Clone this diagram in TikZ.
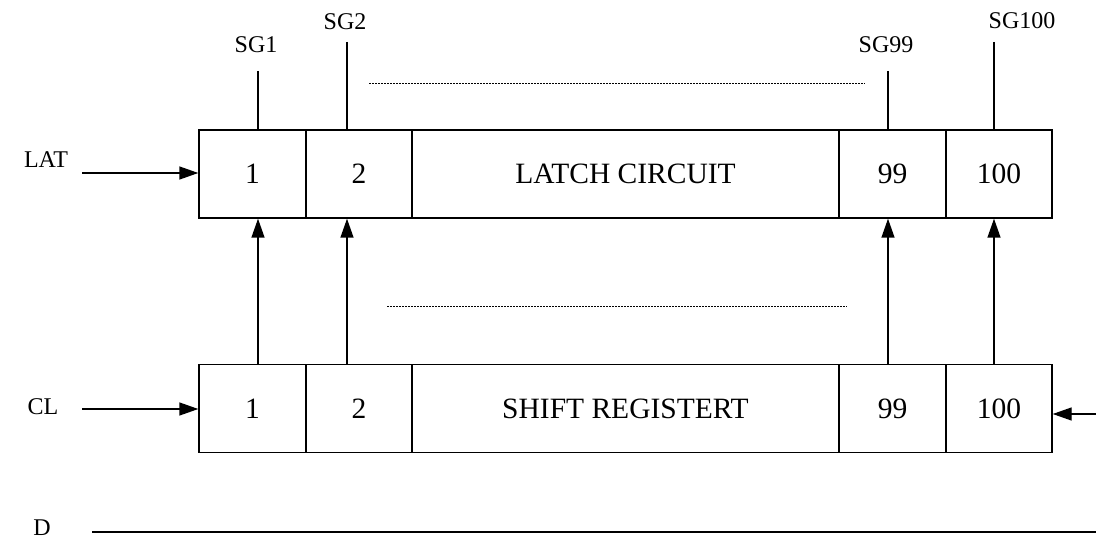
\documentclass[tikz,border=0pt]{standalone}
\usepackage{fontspec}
\setmainfont{Liberation Serif}
\usetikzlibrary{arrows.meta}
\begin{document}
\begin{tikzpicture}[x=1pt,y=-1pt,
  cell/.style={draw,line width=1.4pt,inner sep=0pt,minimum height=88pt,
    font=\fontsize{29.5}{31}\selectfont},
  lbl/.style={inner sep=0pt,font=\fontsize{24}{26}\selectfont},
  wire/.style={line width=1.4pt},
  arr/.style={line width=1.4pt,-{Triangle[length=19pt,width=13pt]}},
  dots/.style={line width=0.8pt,dash pattern=on 1.6pt off 1.4pt}]
\useasboundingbox (0,0) rectangle (1096,540);

% latch row
\node[cell,minimum width=107pt] (t1)   at (252.5,174) {1};
\node[cell,minimum width=106pt] (t2)   at (359,174)   {2};
\node[cell,minimum width=427pt] (tl)   at (625.5,174) {LATCH CIRCUIT};
\node[cell,minimum width=107pt] (t99)  at (892.5,174) {99};
\node[cell,minimum width=106pt] (t100) at (999,174)   {100};

% shift register row
\node[cell,minimum width=107pt] (b1)   at (252.5,408.5) {1};
\node[cell,minimum width=106pt] (b2)   at (359,408.5)   {2};
\node[cell,minimum width=427pt] (bl)   at (625.5,408.5) {SHIFT REGISTERT};
\node[cell,minimum width=107pt] (b99)  at (892.5,408.5) {99};
\node[cell,minimum width=106pt] (b100) at (999,408.5)   {100};

% segment outputs
\node[lbl] (sg1)   at (256,45)  {SG1};
\node[lbl] (sg2)   at (345,22)  {SG2};
\node[lbl] (sg99)  at (886,45)  {SG99};
\node[lbl] (sg100) at (1022,21) {SG100};
\coordinate (o1)   at (258,71);
\coordinate (o2)   at (347,42);
\coordinate (o99)  at (888,71);
\coordinate (o100) at (994,42);
\foreach \o/\c in {o1/t1,o2/t2,o99/t99,o100/t100}
  \draw[wire] (\o) -- (\o |- \c.north);

% register to latch transfers
\foreach \o/\b/\t in {o1/b1/t1,o2/b2/t2,o99/b99/t99,o100/b100/t100}
  \draw[arr] (\o |- \b.north) -- (\o |- \t.south);

% ellipsis rows
\coordinate (d1a) at (369,83);  \coordinate (d1b) at (865,83);
\coordinate (d2a) at (387,306); \coordinate (d2b) at (847,306);
\draw[dots] (d1a) -- (d1b);
\draw[dots] (d2a) -- (d2b);

% inputs
\node[lbl] (lat) at (46,160) {LAT};
\node[lbl] (cl)  at (43,407) {CL};
\node[lbl] (d)   at (42,528) {D};
\coordinate (latin) at (82,173);
\coordinate (clin)  at (82,409);
\coordinate (rin)   at (1096,414);
\coordinate (dA)    at (92,532);
\coordinate (dB)    at (1096,532);
\draw[arr] (latin) -- (latin -| t1.west);
\draw[arr] (clin) -- (clin -| b1.west);
\draw[arr] (rin) -- (rin -| b100.east);
\draw[wire] (dA) -- (dB);
\end{tikzpicture}
\end{document}
